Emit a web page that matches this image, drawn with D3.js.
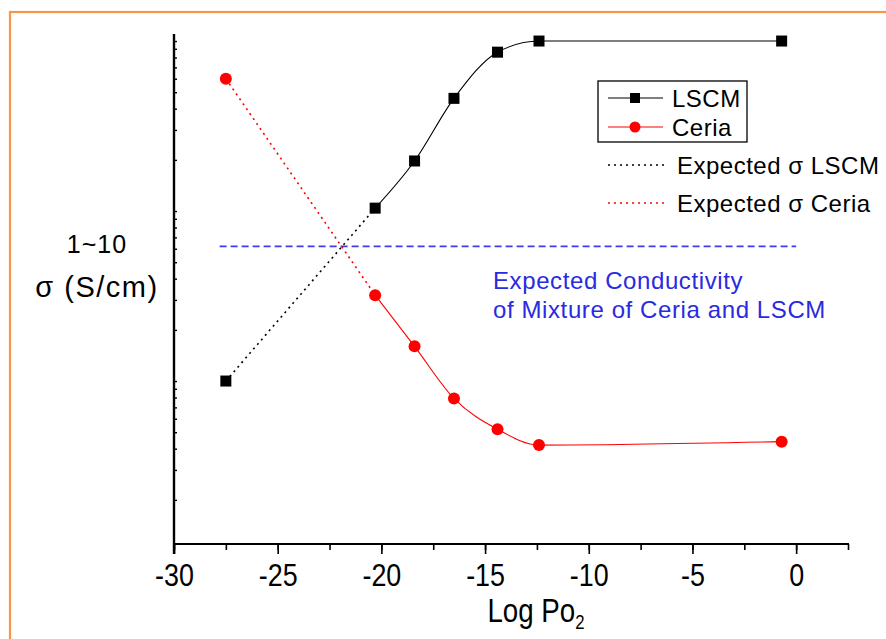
<!DOCTYPE html>
<html>
<head>
<meta charset="utf-8">
<script src="https://cdn.jsdelivr.net/npm/d3@7"></script>
<style>
  html, body { margin: 0; padding: 0; background: #fff; }
  svg { display: block; font-family: "Liberation Sans", Arial, sans-serif; }
</style>
</head>
<body>
<svg id="chart" width="886" height="639"></svg>
<script>
// Oxygen partial pressure (log) at which each sample was measured
const logPo2 = [-27.5, -20.3, -18.4, -16.5, -14.4, -12.4, -0.7];
// Conductivity of each material (arbitrary log units)
const lscm = [10, 104, 197, 460, 860, 1000, 1000];
const ceria = [600, 32, 16, 7.9, 5.2, 4.2, 4.4];
// Expected conductivity of the mixture, drawn as a flat line
const mixtureX = [-27.8, 0];
const mixtureValue = 62;
const xTickValues = [-30, -25, -20, -15, -10, -5, 0];

const svg = d3.select("#chart");
// Condensed look for the x-axis lettering
const condense = "scale(0.84,1)";

// Page frame
svg.append("rect").attr("x", 10).attr("y", 12).attr("width", 900).attr("height", 700)
  .attr("fill", "none").attr("stroke", "#f7964a").attr("stroke-width", 2.2);

const x = d3.scaleLinear().domain([-30, 2.5]).range([174, 848]);
const y = d3.scaleLog().domain([1.1, 1100]).range([544, 34]);

// X axis: majors every 5, minors every 2.5
const xAxisG = svg.append("g").attr("transform", `translate(0,${y.range()[0]})`);
xAxisG.call(d3.axisBottom(x).tickValues(d3.range(-30, 2.6, 2.5)).tickSize(6).tickFormat(""));
xAxisG.call(g => g.select(".domain").remove());
xAxisG.selectAll(".tick line").attr("stroke", "#000").attr("stroke-width", 1.6);
xAxisG.append("g").call(d3.axisBottom(x).tickValues(xTickValues).tickSize(10).tickPadding(9)
    .tickFormat(d => d))
  .call(g => g.select(".domain").remove())
  .call(g => g.selectAll(".tick line").attr("stroke", "#000").attr("stroke-width", 1.6))
  .call(g => g.selectAll(".tick text").attr("font-size", 32).attr("fill", "#000")
    .attr("font-family", "'Liberation Sans', Arial, sans-serif").attr("transform", condense));
svg.append("line").attr("x1", x(-30) - 1).attr("x2", x(2.5) + 1)
  .attr("y1", y.range()[0]).attr("y2", y.range()[0]).attr("stroke", "#000").attr("stroke-width", 2.2);

// Y axis: log ticks pointing inward, no labels
const yTicks = y.ticks().filter(v => v >= 1.1 && v <= 1100);
const yAxisG = svg.append("g").attr("transform", `translate(${x(-30)},0)`);
yAxisG.call(d3.axisRight(y).tickValues(yTicks).tickSize(3).tickFormat(""));
yAxisG.call(g => g.select(".domain").remove());
yAxisG.selectAll(".tick line").attr("stroke", "#000").attr("stroke-width", 1.4);
svg.append("line").attr("x1", x(-30)).attr("x2", x(-30))
  .attr("y1", y.range()[1]).attr("y2", y.range()[0] + 10).attr("stroke", "#000").attr("stroke-width", 2.4);

// Axis titles
const xt = svg.append("g").attr("transform", "translate(536,622)")
  .append("text").attr("transform", condense).attr("text-anchor", "middle")
  .attr("font-size", 33).attr("fill", "#000");
xt.append("tspan").text("Log Po");
xt.append("tspan").attr("font-size", 20).attr("dy", 7).text("2");
svg.append("text").attr("x", 97).attr("y", 253).attr("text-anchor", "middle")
  .attr("font-size", 25).attr("letter-spacing", 1).attr("fill", "#000").text("1~10");
svg.append("text").attr("x", 97).attr("y", 297).attr("text-anchor", "middle")
  .attr("font-size", 29).attr("letter-spacing", 1.5).attr("fill", "#000").text("σ (S/cm)");

// Expected mixture conductivity
svg.append("line").attr("x1", x(mixtureX[0])).attr("x2", x(mixtureX[1]))
  .attr("y1", y(mixtureValue)).attr("y2", y(mixtureValue))
  .attr("stroke", "#3c3cf0").attr("stroke-width", 1.6).attr("stroke-dasharray", "7,4");
svg.append("text").attr("x", 493).attr("y", 289).attr("font-size", 24).attr("letter-spacing", 0.6)
  .attr("fill", "#2a2ae0").text("Expected Conductivity");
svg.append("text").attr("x", 493).attr("y", 318).attr("font-size", 24).attr("letter-spacing", 0.6)
  .attr("fill", "#2a2ae0").text("of Mixture of Ceria and LSCM");

const pts = (vals) => logPo2.map((p, i) => [x(p), y(vals[i])]);
const line = d3.line().curve(d3.curveMonotoneX);

function drawSeries(vals, color) {
  const p = pts(vals);
  // Extrapolated (expected) segment
  svg.append("path").attr("d", d3.line()(p.slice(0, 2))).attr("fill", "none")
    .attr("stroke", color).attr("stroke-width", 1.6).attr("stroke-dasharray", "2,4");
  // Measured segment
  svg.append("path").attr("d", line(p.slice(1))).attr("fill", "none")
    .attr("stroke", color).attr("stroke-width", 1.1);
  return p;
}

const pL = drawSeries(lscm, "#000");
const pC = drawSeries(ceria, "#ff0000");

svg.append("g").selectAll("rect").data(pL).join("rect")
  .attr("x", d => d[0] - 5.5).attr("y", d => d[1] - 5.5).attr("width", 11).attr("height", 11)
  .attr("fill", "#000");
svg.append("g").selectAll("circle").data(pC).join("circle")
  .attr("cx", d => d[0]).attr("cy", d => d[1]).attr("r", 6).attr("fill", "#ff0000");

// Legend
const lg = svg.append("g");
lg.append("rect").attr("x", 598).attr("y", 81).attr("width", 149).attr("height", 61)
  .attr("fill", "#fff").attr("stroke", "#000").attr("stroke-width", 1.3);
const legendRows = [
  { y: 98, label: "LSCM", color: "#000", kind: "square" },
  { y: 127, label: "Ceria", color: "#ff0000", kind: "circle" }
];
legendRows.forEach(r => {
  lg.append("line").attr("x1", 608).attr("x2", 663).attr("y1", r.y).attr("y2", r.y)
    .attr("stroke", r.color).attr("stroke-width", 1.1);
  if (r.kind === "square") {
    lg.append("rect").attr("x", 630).attr("y", r.y - 5).attr("width", 10).attr("height", 10).attr("fill", r.color);
  } else {
    lg.append("circle").attr("cx", 635).attr("cy", r.y).attr("r", 5.5).attr("fill", r.color);
  }
  lg.append("text").attr("x", 672).attr("y", r.y + 9).attr("font-size", 24).attr("letter-spacing", 0.5)
    .attr("fill", "#000").text(r.label);
});
const expRows = [
  { y: 165, label: "Expected σ LSCM", color: "#000" },
  { y: 203, label: "Expected σ Ceria", color: "#ff0000" }
];
expRows.forEach(r => {
  lg.append("line").attr("x1", 608).attr("x2", 666).attr("y1", r.y).attr("y2", r.y)
    .attr("stroke", r.color).attr("stroke-width", 1.6).attr("stroke-dasharray", "2,4");
  lg.append("text").attr("x", 677).attr("y", r.y + 9).attr("font-size", 24).attr("letter-spacing", 0.5)
    .attr("fill", "#000").text(r.label);
});
</script>
</body>
</html>
